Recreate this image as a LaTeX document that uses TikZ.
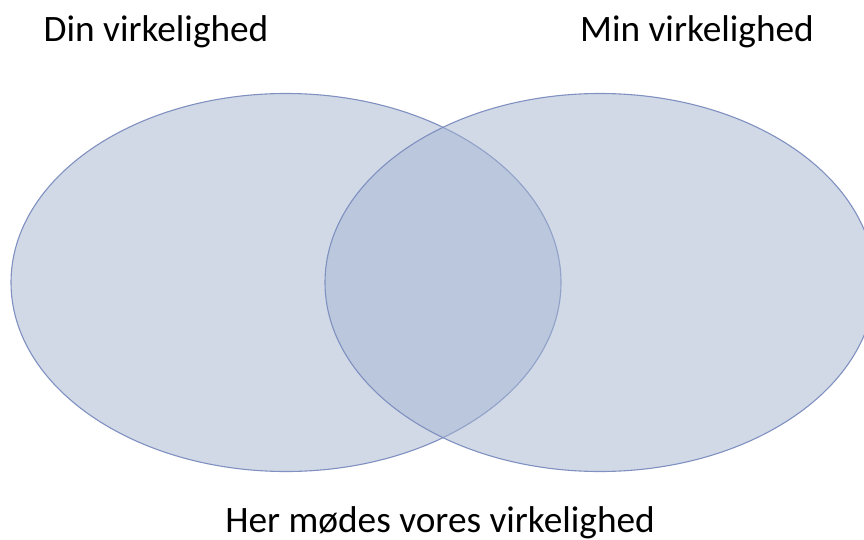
\documentclass[tikz,border=0pt]{standalone}
\usepackage{fontspec}
\setmainfont{Carlito}
\begin{document}
\begin{tikzpicture}[x=1pt,y=1pt,
  setfill/.style={fill={rgb,255:red,163;green,180;blue,208}, fill opacity=0.5,
    draw={rgb,255:red,128;green,144;blue,192}, line width=1.1pt},
  lbl/.style={font=\fontsize{37.3}{44}\selectfont, inner sep=0pt, anchor=base}]
\useasboundingbox (0,0) rectangle (864,539);
\clip (0,0) rectangle (864,539);
\draw[setfill] (286,256.5) ellipse [x radius=275, y radius=189];
\draw[setfill] (600,256.5) ellipse [x radius=275, y radius=189];
\node[lbl] (din) at (156,497) {Din virkelighed};
\node[lbl] (min) at (697,497) {Min virkelighed};
\node[lbl] (her) at (440,7) {Her mødes vores virkelighed};
\end{tikzpicture}
\end{document}
